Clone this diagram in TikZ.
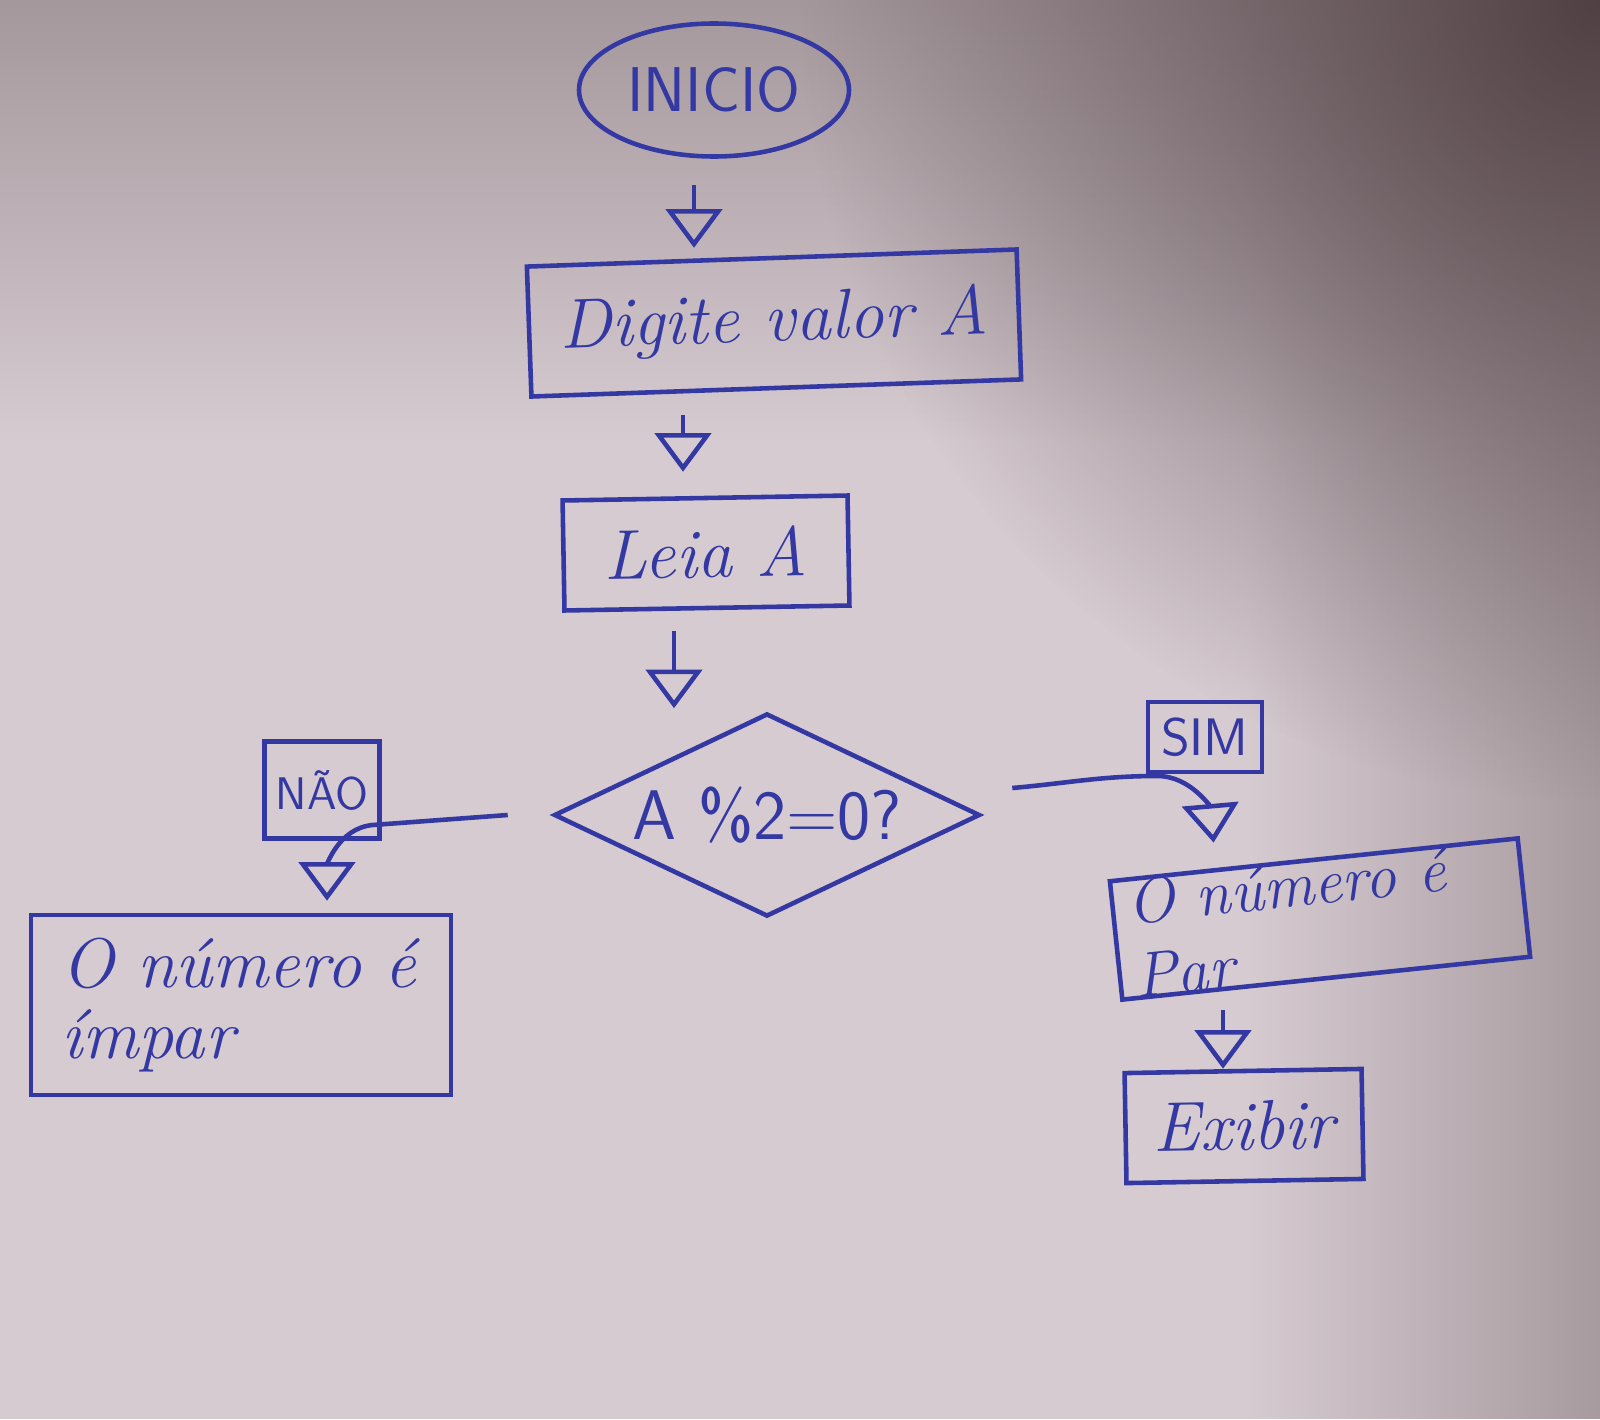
\documentclass[tikz,border=0pt]{standalone}
\usepackage{tikz}
\usetikzlibrary{arrows.meta, positioning, calc, shapes.geometric, fadings}

\definecolor{ink}{RGB}{52,56,162}
\definecolor{paper}{RGB}{214,203,209}
\definecolor{papertop}{RGB}{165,152,157}
\definecolor{paperedge}{RGB}{168,155,160}
\definecolor{cornerdark}{RGB}{80,64,68}

\tikzfading[name=fade out, inner color=transparent!0, outer color=transparent!100]
\tikzfading[name=fade up, top color=transparent!0, bottom color=transparent!100]
\tikzfading[name=fade right, left color=transparent!100, right color=transparent!0]

\tikzset{
  pen/.style={draw=ink, line width=1.3pt, text=ink},
  term/.style={pen, ellipse, minimum width=2.7cm, minimum height=1.33cm, inner sep=0pt,
    font=\sffamily\fontsize{18}{18}\selectfont},
  box/.style={pen, rectangle, inner sep=2pt, font=\itshape\fontsize{20}{20}\selectfont},
  decide/.style={pen, diamond, aspect=1.84, minimum width=4.26cm, inner sep=0pt,
    font=\sffamily\fontsize{20}{20}\selectfont},
  tag/.style={pen, rectangle, inner sep=1pt},
  flow/.style={pen, -{Triangle[open, length=11pt, width=16pt]}},
}

\begin{document}
\begin{tikzpicture}
  \useasboundingbox (0,0) rectangle (16,14.19);

  % paper
  \fill[paper] (0,0) rectangle (16,14.19);
  \fill[papertop, path fading=fade up] (0,9.8) rectangle (16,14.19);
  \fill[paperedge, path fading=fade right] (12.5,0) rectangle (16,14.19);
  \fill[cornerdark, path fading=fade out] (16,14.19) circle (8);

  % boxes
  \node[term] (inicio) at (7.14,13.29) {INICIO};
  \node[box, rotate=2, minimum width=4.9cm, minimum height=1.3cm] (digite) at (7.74,10.96) {Digite valor A};
  \node[box, rotate=1, minimum width=2.85cm, minimum height=1.1cm] (leia) at (7.06,8.66) {Leia A};
  \node[decide] (teste) at (7.67,6.04) {A \%2=0?};

  \node[tag, minimum width=1.15cm, minimum height=0.97cm, font=\sffamily\fontsize{13}{13}\selectfont] (nao) at (3.22,6.29) {NÃO};
  \node[tag, minimum width=1.14cm, minimum height=0.7cm, font=\sffamily\fontsize{15}{15}\selectfont] (sim) at (12.05,6.82) {SIM};

  \node[box, align=left, inner xsep=0.3cm, text width=3.6cm, minimum height=1.8cm] (impar) at (2.41,4.14) {O número é\\ímpar};
  \node[box, rotate=6, align=left, inner xsep=0.15cm, inner ysep=0pt, text width=3.8cm,
    font=\itshape\fontsize{18}{21}\selectfont] (par) at (13.20,5.0) {O número é\\Par};
  \node[box, rotate=1, minimum width=2.37cm, minimum height=1.1cm] (exibir) at (12.44,2.93) {Exibir};

  % main column
  \coordinate (a1) at ([xshift=-2mm]inicio.south);
  \draw[flow, shorten <=2.6mm, shorten >=0.8mm] (a1) -- (a1 |- digite.north);
  \coordinate (a2) at ([xshift=-2.2mm]leia.north);
  \draw[flow, shorten <=2.5mm, shorten >=2.4mm] (a2 |- digite.south) -- (a2);
  \coordinate (a3) at ([xshift=-3.3mm]leia.south);
  \draw[flow, shorten <=2.1mm, shorten >=0.3mm] (a3) -- (a3 |- teste.north);

  % no branch
  \coordinate (noA) at ([xshift=-4.4mm]teste.west);
  \coordinate (noB) at ([xshift=8.6mm, yshift=1.2mm]impar.north);
  \draw[flow] (noA) -- ++(-1.35,-0.1) to[out=185, in=90] (noB);

  % yes branch
  \coordinate (yesA) at ([xshift=3mm, yshift=2.7mm]teste.east);
  \coordinate (yesB) at ([xshift=-1cm, yshift=1.5mm]par.north);
  \draw[flow] (yesA) to[out=5, in=180] ++(1.45,0.12) to[out=0, in=95] (yesB);

  \coordinate (a5) at ([xshift=-2mm]exibir.north);
  \draw[flow, shorten <=3mm] (a5 |- par.south) -- (a5);
\end{tikzpicture}
\end{document}
